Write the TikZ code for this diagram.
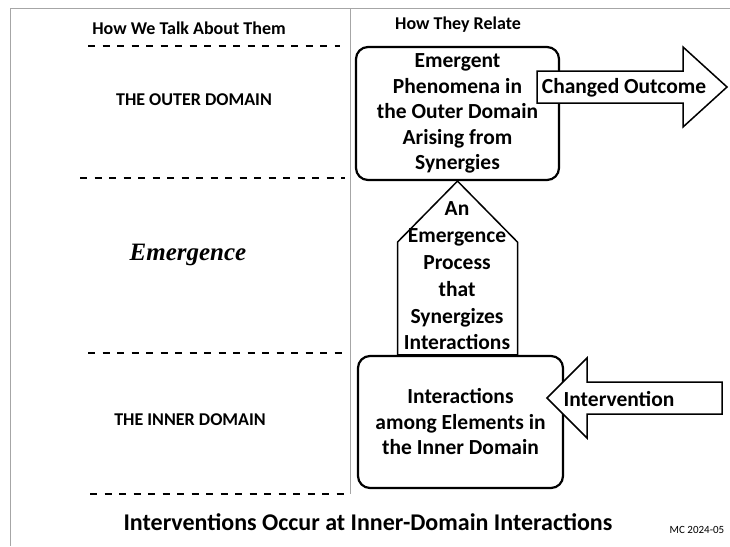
\documentclass[tikz,border=0pt]{standalone}
\usepackage{fontspec}
\setmainfont{Carlito}
\newfontfamily\emfont{Liberation Serif}
\usetikzlibrary{calc}

\begin{document}
\begin{tikzpicture}[x=1pt, y=-1pt,
  frame/.style={draw=gray!70, line width=1pt},
  divider/.style={line width=1.6pt, dash pattern=on 7pt off 7.5pt},
  head/.style={font=\bfseries\fontsize{18}{21}\selectfont},
  level/.style={font=\bfseries\fontsize{18}{21}\selectfont},
  box/.style={rectangle, rounded corners=12pt, draw, line width=2.2pt, align=center, inner sep=0pt, font=\bfseries\fontsize{21.5}{25.5}\selectfont},
  blockarrow/.style={draw, fill=white, line width=1.5pt, line join=miter},
  arrowtext/.style={align=center, inner sep=0pt, font=\bfseries\fontsize{21.5}{26.8}\selectfont},
  tag/.style={fill=white, inner sep=1.5pt, font=\bfseries\fontsize{21.5}{25.5}\selectfont}
]
\useasboundingbox (0,0) rectangle (730,546);

% frame and column rule
\draw[frame] (10,546) -- (10,8) -- (730,8);
\draw[frame] (350,8) -- (350,494);

% column heads
\node[head] (talk) at (189,28) {How We Talk About Them};
\node[head] (relate) at (458,25) {How They Relate};

% level rules
\draw[divider] (88,46) -- (340,46);
\draw[divider] (80,178) -- (345,178);
\draw[divider] (88,353) -- (347,353);
\draw[divider] (90,494) -- (345,494);

% level names
\node[level] (outerlbl) at (194,100) {THE OUTER DOMAIN};
\node[font=\emfont\bfseries\itshape\fontsize{25}{29}\selectfont] (emergence) at (188,255) {Emergence};
\node[level] (innerlbl) at (190,420) {THE INNER DOMAIN};

% boxes
\node[box, minimum width=203pt, minimum height=133pt] (outer) at (457.5,113.5) {Emergent\\Phenomena in\\the Outer Domain\\Arising from\\Synergies};
\node[box, minimum width=205pt, minimum height=132pt] (inner) at (460.5,422) {Interactions\\among Elements in\\the Inner Domain};

% emergence process (up arrow)
\draw[blockarrow] (outer.south) -- ++(60,61) -- ($(outer.south |- inner.north)+(60,0)$) -- ($(outer.south |- inner.north)+(-60,0)$) -- ($(outer.south)+(-60,61)$) -- cycle;
\node[arrowtext] (process) at (457,276) {An\\Emergence\\Process\\that\\Synergizes\\Interactions};

% changed outcome (right arrow)
\draw[blockarrow] (537,71) -- (683,71) -- (683,47) -- (727,87) -- (683,127) -- (683,103) -- (537,103) -- cycle;
\node[tag] (outcome) at (624,88) {Changed Outcome};

% intervention (left arrow)
\draw[blockarrow] (722,382) -- (587,382) -- (587,358) -- (547,398) -- (587,438) -- (587,414) -- (722,414) -- cycle;
\node[tag] (intervention) at (619,399) {Intervention};

% caption
\node[font=\bfseries\fontsize{24}{28}\selectfont] (caption) at (368,522) {Interventions Occur at Inner-Domain Interactions};
\node[font=\fontsize{11}{13}\selectfont] (stamp) at (697,530) {MC 2024-05};
\end{tikzpicture}
\end{document}
